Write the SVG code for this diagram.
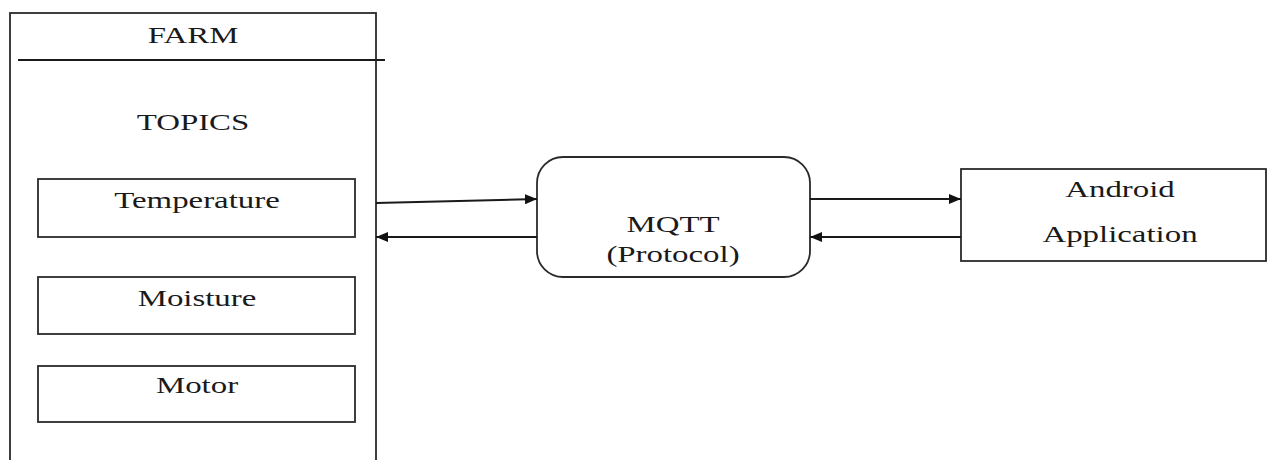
<svg xmlns="http://www.w3.org/2000/svg" width="1268" height="460" viewBox="0 0 1268 460">
  <style>
    .box { fill: #fff; stroke: #2a2a2a; stroke-width: 1.8; }
    .ln { fill: none; stroke: #1a1a1a; stroke-width: 2; }
    .lbl { font-family: "Liberation Serif", "Times New Roman", serif; font-size: 24px; fill: #1a1a1a; text-anchor: middle; }
  </style>
  <defs>
    <marker id="arrow" viewBox="0 0 12 10" refX="12" refY="5" markerWidth="12" markerHeight="10" markerUnits="userSpaceOnUse" orient="auto">
      <path d="M0,0 L12,5 L0,10 z" fill="#111"/>
    </marker>
  </defs>
  <rect width="1268" height="460" fill="#fff"/>

  <!-- Farm container -->
  <g id="farm">
    <rect class="box" x="10" y="13" width="366" height="470"/>
    <line class="ln" x1="18" y1="60" x2="385" y2="60"/>
    <text class="lbl" transform="translate(193,43) scale(1.37,1)">FARM</text>
    <text class="lbl" transform="translate(193,130) scale(1.37,1)">TOPICS</text>
  </g>

  <g id="temperature">
    <rect class="box" x="38" y="179" width="317" height="58"/>
    <text class="lbl" transform="translate(197,208) scale(1.37,1)">Temperature</text>
  </g>

  <g id="moisture">
    <rect class="box" x="38" y="277" width="317" height="57"/>
    <text class="lbl" transform="translate(197,306) scale(1.37,1)">Moisture</text>
  </g>

  <g id="motor">
    <rect class="box" x="38" y="366" width="317" height="56"/>
    <text class="lbl" transform="translate(197,393) scale(1.37,1)">Motor</text>
  </g>

  <g id="mqtt">
    <rect class="box" x="537" y="157" width="273" height="120" rx="26" ry="26"/>
    <text class="lbl" transform="translate(673,232) scale(1.37,1)">MQTT</text>
    <text class="lbl" transform="translate(673,262) scale(1.37,1)">(Protocol)</text>
  </g>

  <g id="android">
    <rect class="box" x="961" y="169" width="305" height="92"/>
    <text class="lbl" transform="translate(1120,197) scale(1.37,1)">Android</text>
    <text class="lbl" transform="translate(1120,242) scale(1.37,1)">Application</text>
  </g>

  <!-- Connectors -->
  <g id="connectors">
    <line class="ln" x1="376" y1="203" x2="537" y2="199" marker-end="url(#arrow)"/>
    <line class="ln" x1="537" y1="237" x2="376" y2="237" marker-end="url(#arrow)"/>
    <line class="ln" x1="810" y1="199" x2="961" y2="199" marker-end="url(#arrow)"/>
    <line class="ln" x1="961" y1="237" x2="810" y2="237" marker-end="url(#arrow)"/>
  </g>
</svg>
